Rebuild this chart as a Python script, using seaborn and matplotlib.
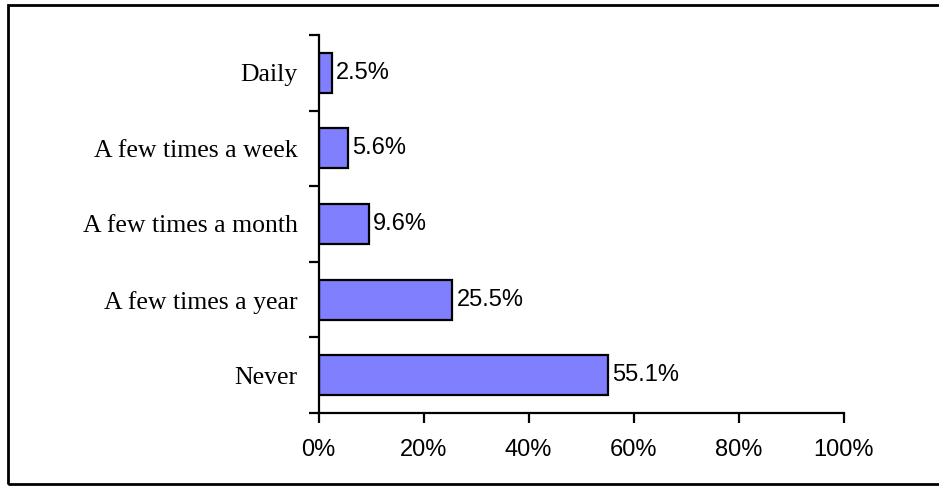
import matplotlib
matplotlib.use("Agg")
import matplotlib.pyplot as plt
import seaborn as sns
import pandas as pd
from matplotlib.patches import Rectangle
from matplotlib.ticker import FixedLocator, NullFormatter

categories = ["Daily", "A few times a week", "A few times a month", "A few times a year", "Never"]
values = [2.5, 5.6, 9.6, 25.5, 55.1]
value_labels = ["2.5%", "5.6%", "9.6%", "25.5%", "55.1%"]
xticks = [0, 20, 40, 60, 80, 100]
xtick_labels = ["0%", "20%", "40%", "60%", "80%", "100%"]

df = pd.DataFrame({"category": categories, "value": values})

sns.set_style("white")
plt.rcParams["font.family"] = ["Liberation Sans", "DejaVu Sans"]
plt.rcParams["text.color"] = "black"
plt.rcParams["xtick.color"] = "black"
plt.rcParams["ytick.color"] = "black"
plt.rcParams["xtick.labelcolor"] = "black"
plt.rcParams["ytick.labelcolor"] = "black"

fig = plt.figure(figsize=(9.39, 4.87), dpi=100)
ax = fig.add_axes([318.5 / 939, 1 - 413 / 487, (843.5 - 318.5) / 939, (413 - 35) / 487])

sns.barplot(data=df, y="category", x="value", order=categories, orient="h",
            color="#8080FF", saturation=1, edgecolor="black", linewidth=1.6,
            width=0.53, ax=ax)

ax.set_xlim(0, 100)
ax.set_ylim(len(categories) - 0.5, -0.5)
ax.set_xlabel("")
ax.set_ylabel("")

for i, (v, lab) in enumerate(zip(values, value_labels)):
    ax.text(v + 0.8, i, lab, va="center", ha="left", fontsize=17, color="black",
            family=["Liberation Sans", "DejaVu Sans"])

ax.set_xticks(xticks)
ax.set_xticklabels(xtick_labels, fontsize=17, color="black")
ax.set_yticks(range(len(categories)))
ax.set_yticklabels(categories, fontsize=18.5, color="black",
                   family=["Liberation Serif", "DejaVu Serif"])
ax.tick_params(axis="y", length=0, pad=15)
ax.yaxis.set_minor_locator(FixedLocator([i - 0.5 for i in range(len(categories) + 1)]))
ax.yaxis.set_minor_formatter(NullFormatter())
ax.tick_params(axis="y", which="minor", length=7, width=1.6, color="black", direction="out", left=True)
ax.tick_params(axis="x", length=7, width=1.6, color="black", direction="out", pad=12, bottom=True)

for s in ["top", "right"]:
    ax.spines[s].set_visible(False)
for s in ["left", "bottom"]:
    ax.spines[s].set_color("black")
    ax.spines[s].set_linewidth(1.6)
ax.grid(False)

fig.patches.append(Rectangle((7.5 / 939, 1 - 484 / 487), 1.0, (484 - 5) / 487,
                             transform=fig.transFigure, fill=False,
                             edgecolor="black", linewidth=2))

fig.savefig("out.png", dpi=100)
